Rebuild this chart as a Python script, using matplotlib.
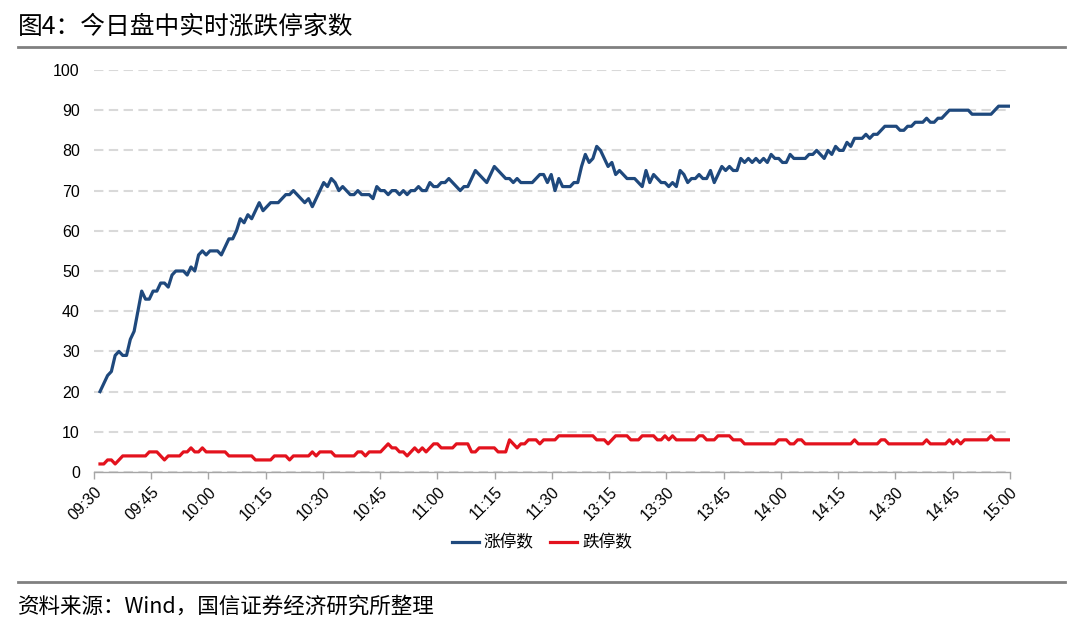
import numpy as np
import matplotlib
matplotlib.use("Agg")
import matplotlib.pyplot as plt
from matplotlib.lines import Line2D

plt.rcParams['font.family'] = ['Liberation Sans', 'Noto Sans CJK SC', 'DejaVu Sans']
cjk = ['Noto Sans CJK SC', 'DejaVu Sans']

# minute by minute, 09:30-11:30 then 13:01-15:00
limit_up = [
    20, 22, 24, 25, 29, 30, 29, 29, 33, 35,
    40, 45, 43, 43, 45, 45, 47, 47, 46, 49,
    50, 50, 50, 49, 51, 50, 54, 55, 54, 55,
    55, 55, 54, 56, 58, 58, 60, 63, 62, 64,
    63, 65, 67, 65, 66, 67, 67, 67, 68, 69,
    69, 70, 69, 68, 67, 68, 66, 68, 70, 72,
    71, 73, 72, 70, 71, 70, 69, 69, 70, 69,
    69, 69, 68, 71, 70, 70, 69, 70, 70, 69,
    70, 69, 70, 70, 71, 70, 70, 72, 71, 71,
    72, 72, 73, 72, 71, 70, 71, 71, 73, 75,
    74, 73, 72, 74, 76, 75, 74, 73, 73, 72,
    73, 72, 72, 72, 72, 73, 74, 74, 72, 74,
    70, 73, 71, 71, 71, 72, 72, 76, 79, 77,
    78, 81, 80, 78, 76, 77, 74, 75, 74, 73,
    73, 73, 72, 71, 75, 72, 74, 73, 72, 72,
    71, 72, 71, 75, 74, 72, 73, 73, 74, 73,
    73, 75, 72, 74, 76, 75, 76, 75, 75, 78,
    77, 78, 77, 78, 77, 78, 77, 79, 78, 78,
    77, 77, 79, 78, 78, 78, 78, 79, 79, 80,
    79, 78, 80, 79, 81, 80, 80, 82, 81, 83,
    83, 83, 84, 83, 84, 84, 85, 86, 86, 86,
    86, 85, 85, 86, 86, 87, 87, 87, 88, 87,
    87, 88, 88, 89, 90, 90, 90, 90, 90, 90,
    89, 89, 89, 89, 89, 89, 90, 91, 91, 91,
    91,
]

limit_down = [
    2, 2, 3, 3, 2, 3, 4, 4, 4, 4,
    4, 4, 4, 5, 5, 5, 4, 3, 4, 4,
    4, 4, 5, 5, 6, 5, 5, 6, 5, 5,
    5, 5, 5, 5, 4, 4, 4, 4, 4, 4,
    4, 3, 3, 3, 3, 3, 4, 4, 4, 4,
    3, 4, 4, 4, 4, 4, 5, 4, 5, 5,
    5, 5, 4, 4, 4, 4, 4, 4, 5, 5,
    4, 5, 5, 5, 5, 6, 7, 6, 6, 5,
    5, 4, 5, 6, 5, 6, 5, 6, 7, 7,
    6, 6, 6, 6, 7, 7, 7, 7, 5, 5,
    6, 6, 6, 6, 6, 5, 5, 5, 8, 7,
    6, 7, 7, 8, 8, 8, 7, 8, 8, 8,
    8, 9, 9, 9, 9, 9, 9, 9, 9, 9,
    9, 8, 8, 8, 7, 8, 9, 9, 9, 9,
    8, 8, 8, 9, 9, 9, 9, 8, 8, 9,
    8, 9, 8, 8, 8, 8, 8, 8, 9, 9,
    8, 8, 8, 9, 9, 9, 9, 8, 8, 8,
    7, 7, 7, 7, 7, 7, 7, 7, 7, 8,
    8, 8, 7, 7, 8, 8, 7, 7, 7, 7,
    7, 7, 7, 7, 7, 7, 7, 7, 7, 8,
    7, 7, 7, 7, 7, 7, 8, 8, 7, 7,
    7, 7, 7, 7, 7, 7, 7, 7, 8, 7,
    7, 7, 7, 7, 8, 7, 8, 7, 8, 8,
    8, 8, 8, 8, 8, 9, 8, 8, 8, 8,
    8,
]

time_labels = ["09:30", "09:45", "10:00", "10:15", "10:30", "10:45", "11:00",
               "11:15", "11:30", "13:15", "13:30", "13:45", "14:00", "14:15",
               "14:30", "14:45", "15:00"]

W, H = 1080, 625
fig = plt.figure(figsize=(W / 100, H / 100), dpi=100)
ax = fig.add_axes([93.7 / W, 1 - 472 / H, (1010 - 93.7) / W, (472 - 70) / H])

x = np.arange(len(limit_up))
x0 = -1.66
ax.plot(x, limit_up, color='#1f497d', lw=2.3, solid_joinstyle='round', label='涨停数')
ax.plot(x, limit_down, color='#e3121d', lw=2.3, solid_joinstyle='round', label='跌停数')

ax.set_xlim(x0, len(limit_up) - 1)
ax.set_ylim(0, 100)
ax.set_yticks(range(0, 101, 10))
ax.set_xticks(np.linspace(x0, len(limit_up) - 1, len(time_labels)))
ax.set_xticklabels(time_labels, rotation=45, ha='right', va='top',
                   rotation_mode='anchor', fontsize=11.5, color='#000000')
ax.tick_params(axis='y', length=0, pad=10, labelsize=11.5)
ax.tick_params(axis='x', length=5, width=1, color='#a6a6a6', pad=4)

ax.yaxis.grid(True, color='#d9d9d9', lw=1.5, linestyle=(0, (4.5, 2.6)))
ax.set_axisbelow(True)
for s in ['left', 'right', 'top']:
    ax.spines[s].set_visible(False)
ax.spines['bottom'].set_color('#a6a6a6')
ax.spines['bottom'].set_linewidth(1)

fig.legend(loc='center', bbox_to_anchor=(542 / W, 1 - 543 / H), ncol=2,
           frameon=False, handlelength=1.6, handletextpad=0.3, columnspacing=1.0,
           prop={'family': cjk, 'size': 12})

fig.text(18 / W, 1 - 27 / H, '图4：今日盘中实时涨跌停家数', family=cjk,
         fontsize=17.8, va='center', ha='left')
fig.add_artist(Line2D([18 / W, 1065 / W], [1 - 47 / H, 1 - 47 / H],
                      color='#808080', lw=2))
fig.add_artist(Line2D([18 / W, 1065 / W], [1 - 582 / H, 1 - 582 / H],
                      color='#808080', lw=2))
fig.text(18 / W, 1 - 607 / H, '资料来源：Wind，国信证券经济研究所整理', family=cjk,
         fontsize=15.5, va='center', ha='left')

fig.savefig('out.png', dpi=100)
